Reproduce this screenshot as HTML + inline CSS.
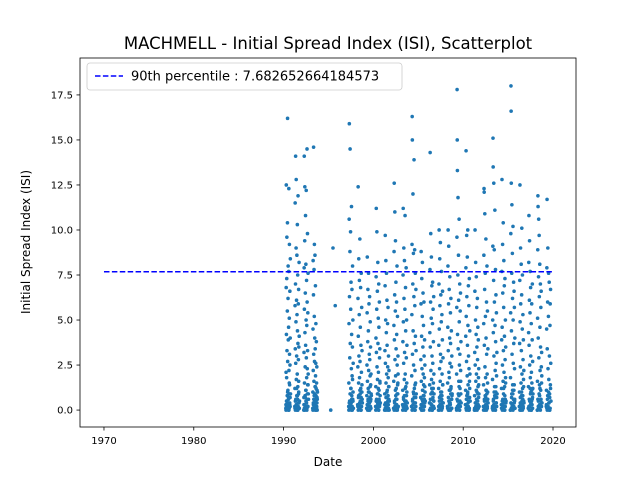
<!DOCTYPE html>
<html><head><meta charset="utf-8"><style>
body{margin:0;background:#fff;font-family:"Liberation Sans","DejaVu Sans",sans-serif}
svg text{font-family:"DejaVu Sans","Liberation Sans",sans-serif}
</style></head><body>
<svg id="chart" width="640" height="480" xmlns="http://www.w3.org/2000/svg">
<rect width="640" height="480" fill="#fff"/>
<text x="328" y="49" font-size="16.5" text-anchor="middle">MACHMELL - Initial Spread Index (ISI), Scatterplot</text>
<g id="marks"></g>
<g id="axes"></g>
<text x="328" y="466" font-size="12" text-anchor="middle">Date</text>
<text x="30" y="242" font-size="12" text-anchor="middle" transform="rotate(-90 30 242)">Initial Spread Index (ISI)</text>
</svg>
<script>
const years = [1990,1991,1992,1993,1995,1997,1998,1999,2000,2001,2002,2003,2004,2005,2006,2007,2008,2009,2010,2011,2012,2013,2014,2015,2016,2017,2018,2019];
const isi = [
[0.1,0.3,2.1,6.8,12.5,4.2,0.5,1.8,7.3,9.6,3.3,0.2,0.8,5.5,10.4,16.2,2.7,0.4,1.1,6.2,8.0,3.9,0.0,0.6,4.6,7.7,12.3,2.2,0.9,0.1,5.1,9.2,3.1,1.4,0.3,6.6,2.5,0.7,4.0,8.4],
[0.2,1.2,5.8,11.5,3.4,0.5,7.0,14.1,2.6,0.1,4.9,9.0,12.8,1.7,0.3,6.1,3.0,0.8,8.6,5.3,0.0,2.0,10.3,4.4,0.6,7.5,1.3,3.7,11.9,0.2,5.9,2.8,0.9,6.7,1.0,3.5,0.4,8.2,4.1,0.1],
[0.0,0.7,3.2,7.9,14.1,5.6,1.5,0.3,9.4,12.4,4.3,0.8,2.4,6.5,0.2,10.8,3.6,1.1,8.1,0.5,5.0,12.2,2.9,0.4,7.2,1.8,4.7,0.1,14.5,6.0,2.3,0.6,9.8,3.3,1.4,5.4,0.2,7.6,2.0,0.9],
[0.1,1.0,4.5,8.3,2.2,0.4,6.4,14.6,3.1,0.6,1.6,7.8,0.2,5.2,9.2,2.7,0.9,4.0,0.3,8.6,1.3,3.4,0.0,6.9,1.9,0.5,2.6,4.8,0.8,1.2,0.1,3.8,0.7,1.5,0.2,2.4,0.4,1.1,0.0,0.6],
[0.0,9.0,5.8],
[0.2,1.5,4.8,10.6,15.9,6.3,0.5,2.9,8.8,14.5,3.7,0.1,9.9,5.6,1.2,7.1,0.4,2.3,11.3,4.2,0.8,6.7,1.9,0.0,3.5,8.0,0.6,5.0,1.0,2.6],
[0.3,2.4,6.2,12.4,4.1,0.7,1.5,8.4,3.0,0.1,5.3,7.2,1.8,0.4,9.5,2.7,0.9,4.6,0.2,6.8,1.2,3.6,0.0,7.6,2.1,0.5,5.7,1.0,3.3,0.6],
[0.1,0.8,2.5,5.4,8.5,1.6,0.3,3.8,6.7,0.5,1.2,4.4,7.6,2.2,0.0,5.9,1.0,3.1,0.4,6.3,2.8,0.7,1.9,4.9,0.2,3.5,1.4,0.6,2.0,0.9],
[0.2,1.3,4.0,7.4,11.2,3.2,0.6,5.6,9.9,2.4,0.1,6.6,1.7,0.4,8.2,3.7,0.9,5.1,2.1,0.0,7.0,4.6,1.1,0.5,6.0,2.9,0.3,3.4,1.5,0.8],
[0.0,0.9,3.3,6.9,9.7,2.6,0.4,5.0,8.3,1.5,0.2,4.3,7.6,2.0,0.7,6.1,3.6,1.1,0.1,4.8,2.4,0.5,5.7,1.8,0.3,3.0,1.3,0.6,2.2,0.0],
[0.1,1.6,4.7,8.8,12.6,3.9,0.5,6.4,11.0,2.8,0.2,5.5,9.4,1.9,0.8,7.1,3.4,1.2,0.3,6.0,4.2,0.6,8.0,2.5,0.0,5.2,1.4,0.9,3.0,2.0],
[0.3,1.1,3.8,7.5,11.2,4.9,0.7,2.6,9.0,6.2,0.2,1.7,8.3,3.2,0.5,5.6,10.8,2.0,0.0,6.8,4.4,1.3,0.4,7.9,2.9,0.8,5.0,1.5,3.6,0.1],
[0.2,1.9,5.3,9.2,16.3,15.0,3.1,0.6,7.0,12.0,4.4,0.1,8.7,2.5,0.9,6.3,13.9,3.7,1.2,0.4,8.9,5.8,2.2,0.0,7.6,4.1,1.5,0.7,6.7,3.3],
[0.1,0.7,2.8,5.9,8.8,1.6,0.3,4.1,7.3,2.3,0.0,5.2,8.2,1.1,0.5,3.5,6.5,2.0,0.8,4.7,1.4,0.2,6.0,3.0,0.6,1.8,3.9,0.4,2.5,1.0],
[0.4,1.4,4.3,7.8,14.3,3.5,0.6,6.0,9.8,2.2,0.1,5.1,8.5,1.7,0.3,6.9,3.0,1.0,0.0,4.8,7.1,2.6,0.7,5.6,1.2,3.8,0.2,6.3,2.0,0.9],
[0.0,1.2,3.6,7.0,10.0,4.5,0.5,2.3,8.4,5.8,0.2,1.6,9.3,3.1,0.8,6.4,2.7,0.3,4.9,7.7,1.0,0.6,5.3,2.0,0.1,3.9,6.6,1.4,0.4,2.9],
[0.2,1.5,4.6,8.0,10.0,3.3,0.7,5.9,9.1,2.1,0.0,6.7,1.8,0.4,4.0,7.4,2.6,1.1,0.3,5.4,3.7,0.9,6.2,1.3,0.1,4.4,2.4,0.6,3.0,0.8],
[0.1,2.0,5.7,9.6,17.8,15.0,13.3,4.2,0.5,7.5,11.8,3.4,0.2,8.6,6.1,1.6,0.8,10.6,4.9,2.5,0.0,7.0,3.1,1.2,5.5,0.4,6.5,2.2,0.9,3.8],
[0.3,1.1,4.1,7.9,14.4,5.2,0.6,2.7,9.7,6.3,0.1,1.9,8.5,3.6,0.9,10.0,4.7,1.4,0.2,6.9,3.0,0.5,5.8,2.3,0.0,7.3,1.6,0.7,4.4,2.0],
[0.0,0.8,3.2,6.6,10.0,2.5,0.4,5.0,8.2,1.6,0.2,4.2,7.4,2.0,0.6,5.7,3.5,1.0,0.1,6.2,2.8,0.5,4.6,1.3,0.3,3.9,1.8,0.7,2.3,0.9],
[0.2,1.4,4.8,8.6,12.3,12.1,3.6,0.5,6.7,10.9,2.4,0.0,7.6,5.2,1.8,0.7,9.5,4.0,1.1,0.3,6.0,3.1,0.9,8.0,2.0,0.1,5.5,1.5,0.6,3.4],
[0.1,1.7,5.0,9.1,15.1,13.5,4.3,0.6,7.2,12.6,3.0,0.2,8.9,6.0,1.3,0.8,11.1,4.7,2.2,0.0,7.8,3.8,1.0,6.4,2.6,0.4,5.4,1.9,0.7,3.2],
[0.3,1.2,3.9,7.7,12.8,4.6,0.5,2.5,9.2,6.5,0.1,1.6,10.4,3.3,0.9,5.7,8.3,2.1,0.2,6.9,4.1,1.3,0.0,7.3,2.8,0.6,5.0,1.8,3.5,0.4],
[0.0,1.8,5.4,9.8,18.0,16.6,12.6,4.4,0.7,7.6,11.4,3.1,0.2,8.7,6.2,1.4,0.9,10.2,5.0,2.6,0.1,7.1,3.7,1.1,6.6,0.4,5.7,2.3,0.6,4.0],
[0.2,1.0,3.7,7.2,12.5,4.9,0.4,2.4,9.0,5.9,0.0,1.5,8.1,3.3,0.8,6.4,10.1,2.0,0.3,4.5,7.5,1.2,0.6,5.3,2.8,0.1,3.9,1.7,0.5,2.2],
[0.1,1.3,4.3,8.2,10.8,3.6,0.6,6.1,9.4,2.5,0.2,5.4,7.7,1.8,0.9,6.8,3.0,1.0,0.0,4.8,2.1,0.5,5.9,1.5,0.3,3.9,7.0,0.7,2.7,1.2],
[0.0,1.6,5.1,8.9,11.9,11.3,4.0,0.5,7.4,10.6,2.9,0.1,9.7,6.3,1.4,0.8,8.1,4.6,2.2,0.3,7.0,3.5,1.1,5.7,0.6,6.6,2.4,0.2,3.2,1.9],
[0.2,1.1,4.5,7.9,11.7,3.4,0.6,6.0,9.0,2.3,0.1,5.2,7.6,1.7,0.4,7.1,3.0,0.9,0.0,4.7,5.9,1.4,6.7,2.6]
];
// Additional low-ISI (wet/cool) days within each season
const lowIsi = [
[0.0,0.2,0.5,0.1,1.0,0.3,0.7,0.0,1.5,0.4,0.2,0.9],
[0.1,0.0,0.6,0.3,1.2,0.2,0.8,0.0,0.4,1.6,0.1,0.5],
[0.3,0.1,0.0,0.7,0.2,1.1,0.4,0.0,0.9,0.2,1.4,0.6],
[0.0,0.3,0.1,0.8,0.2,0.5,1.3,0.0,0.4,0.1,0.7,1.0],
[],
[0.0,0.4,0.1,0.9,0.3,1.2,0.0,0.6,0.2,1.7,0.5,0.1],
[0.2,0.0,0.8,0.3,0.1,1.1,0.5,0.0,0.7,0.2,1.4,0.4],
[0.1,0.3,0.0,0.6,1.0,0.2,0.4,0.0,1.3,0.5,0.1,0.8],
[0.0,0.5,0.2,0.1,0.9,0.3,1.2,0.0,0.6,0.2,1.6,0.4],
[0.3,0.1,0.0,0.7,0.2,1.0,0.4,0.0,0.8,0.1,1.3,0.5],
[0.1,0.0,0.4,0.2,1.1,0.6,0.0,0.3,0.9,0.1,1.5,0.2],
[0.0,0.2,0.6,0.1,0.8,0.3,1.2,0.0,0.5,0.2,1.0,0.4],
[0.2,0.0,0.5,0.3,1.0,0.1,0.7,0.0,1.4,0.4,0.2,0.9],
[0.1,0.3,0.0,0.6,0.2,1.1,0.4,0.0,0.8,0.2,1.3,0.5],
[0.0,0.4,0.1,0.9,0.3,1.2,0.0,0.6,0.2,1.5,0.5,0.1],
[0.2,0.0,0.7,0.3,0.1,1.0,0.5,0.0,0.8,0.2,1.4,0.4],
[0.1,0.2,0.0,0.5,1.1,0.3,0.4,0.0,1.2,0.6,0.1,0.9],
[0.0,0.6,0.2,0.1,0.9,0.3,1.3,0.0,0.5,0.2,1.6,0.4],
[0.3,0.1,0.0,0.8,0.2,1.0,0.4,0.0,0.7,0.1,1.2,0.5],
[0.1,0.0,0.4,0.2,1.1,0.6,0.0,0.3,0.9,0.1,1.4,0.2],
[0.0,0.2,0.6,0.1,0.8,0.3,1.1,0.0,0.5,0.2,1.0,0.4],
[0.2,0.0,0.5,0.3,1.0,0.1,0.7,0.0,1.3,0.4,0.2,0.9],
[0.1,0.3,0.0,0.6,0.2,1.2,0.4,0.0,0.8,0.2,1.5,0.5],
[0.0,0.4,0.1,0.9,0.3,1.1,0.0,0.6,0.2,1.4,0.5,0.1],
[0.2,0.0,0.7,0.3,0.1,1.0,0.5,0.0,0.8,0.2,1.3,0.4],
[0.1,0.2,0.0,0.5,1.2,0.3,0.4,0.0,1.1,0.6,0.1,0.9],
[0.0,0.6,0.2,0.1,0.9,0.3,1.2,0.0,0.5,0.2,1.5,0.4],
[0.3,0.1,0.0,0.8,0.2,1.0,0.4,0.0,0.7,0.1,1.2,0.5]
];
const xTicks = [1970,1980,1990,2000,2010,2020];
const yTicks = [0.0,2.5,5.0,7.5,10.0,12.5,15.0,17.5];
const p90 = 7.682652664184573;
const p90Range = [1970,2020];
const seasonStart = 0.25, seasonLen = 0.5;

const L=80,R=576,T=58,B=427;
const xMin=1967.33,xMax=2022.56,yMin=-0.94,yMax=19.55;
const X=v=>L+(v-xMin)/(xMax-xMin)*(R-L);
const Y=v=>B-(v-yMin)/(yMax-yMin)*(B-T);
const NS="http://www.w3.org/2000/svg";
function mk(tag,attrs,parent){const e=document.createElementNS(NS,tag);for(const k in attrs)e.setAttribute(k,attrs[k]);parent.appendChild(e);return e;}
const marks=document.getElementById('marks'), axes=document.getElementById('axes');
function plotSeason(yr,vals,offset){
  vals.forEach((v,j)=>{
    const d=yr+seasonStart+offset+seasonLen*j/Math.max(1,vals.length-1);
    const c=mk('circle',{cx:X(d),cy:Y(v),r:1.8,fill:'#1f77b4'},marks);
    
    
  });
}
years.forEach((yr,i)=>{
  plotSeason(yr,isi[i],0);
  plotSeason(yr,lowIsi[i],0.02);
});
const ln=mk('line',{x1:X(p90Range[0]),x2:X(p90Range[1]),y1:Y(p90),y2:Y(p90),stroke:'#0000ff','stroke-width':1.5,'stroke-dasharray':'5.5,2.4'},marks);


const fr=mk('rect',{x:L,y:T,width:R-L,height:B-T,fill:'none',stroke:'#000','stroke-width':0.8},axes);


xTicks.forEach(t=>{
  const x=X(t);
  mk('line',{x1:x,x2:x,y1:B,y2:B+3.5,stroke:'#000','stroke-width':0.8},axes);
  const tx=mk('text',{x:x,y:B+17,'font-size':10,'text-anchor':'middle'},axes);
  tx.textContent=t;
  
  
});
yTicks.forEach(t=>{
  const y=Y(t);
  mk('line',{x1:L-3.5,x2:L,y1:y,y2:y,stroke:'#000','stroke-width':0.8},axes);
  const tx=mk('text',{x:L-7,y:y+3.5,'font-size':10,'text-anchor':'end'},axes);
  tx.textContent=t.toFixed(1);
  
  
});
const lg=mk('g',{},axes);


mk('rect',{x:87,y:63,width:315,height:27,rx:3,fill:'#fff','fill-opacity':0.8,stroke:'#ccc','stroke-width':0.8},lg);
mk('line',{x1:95,x2:123,y1:76,y2:76,stroke:'#0000ff','stroke-width':1.5,'stroke-dasharray':'5.5,2.4'},lg);
const lt=mk('text',{x:131,y:80.5,'font-size':13},lg);
lt.textContent='90th percentile : '+p90;


</script>
</body></html>
